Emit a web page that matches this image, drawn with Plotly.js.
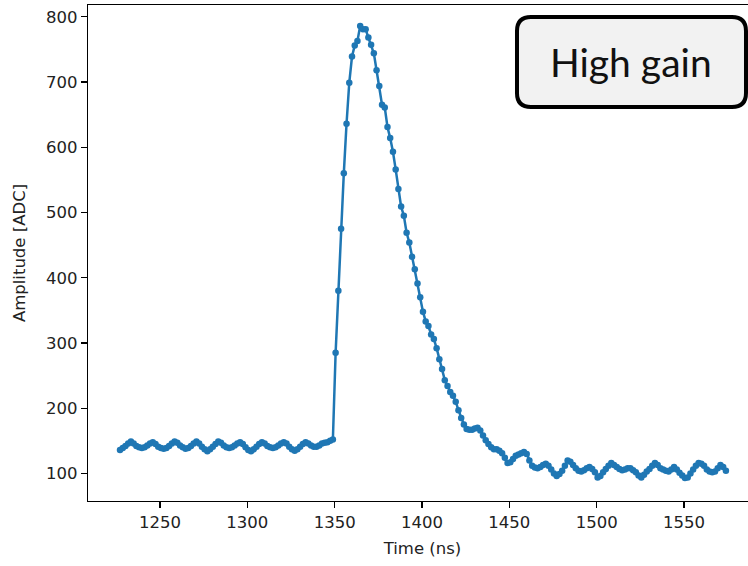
<!DOCTYPE html>
<html>
<head>
<meta charset="utf-8">
<script src="https://cdn.plot.ly/plotly-3.0.1.min.js"></script>
<style>
html, body { margin: 0; padding: 0; background: #ffffff; overflow: hidden; }
#chart { width: 760px; height: 566px; }
</style>
</head>
<body>
<div id="chart"></div>
<script>
// Sample times (ns)
var timeNs = [
  1227.13, 1228.69, 1230.25, 1231.81, 1233.38, 1234.94, 1236.50, 1238.06,
  1239.63, 1241.19, 1242.75, 1244.31, 1245.88, 1247.44, 1249.00, 1250.56,
  1252.13, 1253.69, 1255.25, 1256.81, 1258.38, 1259.94, 1261.50, 1263.06,
  1264.63, 1266.19, 1267.75, 1269.31, 1270.88, 1272.44, 1274.00, 1275.56,
  1277.13, 1278.69, 1280.25, 1281.81, 1283.38, 1284.94, 1286.50, 1288.06,
  1289.63, 1291.19, 1292.75, 1294.31, 1295.88, 1297.44, 1299.00, 1300.56,
  1302.13, 1303.69, 1305.25, 1306.81, 1308.38, 1309.94, 1311.50, 1313.06,
  1314.63, 1316.19, 1317.75, 1319.31, 1320.88, 1322.44, 1324.00, 1325.56,
  1327.13, 1328.69, 1330.25, 1331.81, 1333.38, 1334.94, 1336.50, 1338.06,
  1339.63, 1341.19, 1342.75, 1344.31, 1345.88, 1347.44, 1349.00, 1350.56,
  1352.13, 1353.69, 1355.25, 1356.81, 1358.38, 1359.94, 1361.50, 1363.06,
  1364.63, 1366.19, 1367.75, 1369.31, 1370.88, 1372.44, 1374.00, 1375.56,
  1377.13, 1378.69, 1380.25, 1381.81, 1383.38, 1384.94, 1386.50, 1388.06,
  1389.63, 1391.19, 1392.75, 1394.31, 1395.88, 1397.44, 1399.00, 1400.56,
  1402.13, 1403.69, 1405.25, 1406.81, 1408.38, 1409.94, 1411.50, 1413.06,
  1414.63, 1416.19, 1417.75, 1419.31, 1420.88, 1422.44, 1424.00, 1425.56,
  1427.13, 1428.69, 1430.25, 1431.81, 1433.38, 1434.94, 1436.50, 1438.06,
  1439.63, 1441.19, 1442.75, 1444.31, 1445.88, 1447.44, 1449.00, 1450.56,
  1452.13, 1453.69, 1455.25, 1456.81, 1458.38, 1459.94, 1461.50, 1463.06,
  1464.63, 1466.19, 1467.75, 1469.31, 1470.88, 1472.44, 1474.00, 1475.56,
  1477.13, 1478.69, 1480.25, 1481.81, 1483.38, 1484.94, 1486.50, 1488.06,
  1489.63, 1491.19, 1492.75, 1494.31, 1495.88, 1497.44, 1499.00, 1500.56,
  1502.13, 1503.69, 1505.25, 1506.81, 1508.38, 1509.94, 1511.50, 1513.06,
  1514.63, 1516.19, 1517.75, 1519.31, 1520.88, 1522.44, 1524.00, 1525.56,
  1527.13, 1528.69, 1530.25, 1531.81, 1533.38, 1534.94, 1536.50, 1538.06,
  1539.63, 1541.19, 1542.75, 1544.31, 1545.88, 1547.44, 1549.00, 1550.56,
  1552.13, 1553.69, 1555.25, 1556.81, 1558.38, 1559.94, 1561.50, 1563.06,
  1564.63, 1566.19, 1567.75, 1569.31, 1570.88, 1572.44, 1574.00
];

// Amplitude (ADC counts)
var amplitudeAdc = [
  136, 139, 142, 146, 149, 146, 142, 140,
  139, 140, 143, 146, 148, 145, 141, 139,
  138, 139, 142, 146, 149, 147, 143, 140,
  138, 139, 142, 146, 149, 146, 141, 137,
  134, 137, 141, 145, 149, 147, 143, 140,
  139, 140, 143, 146, 148, 145, 140, 136,
  134, 137, 141, 145, 148, 146, 142, 140,
  139, 140, 143, 146, 148, 146, 141, 137,
  135, 137, 141, 145, 148, 146, 143, 141,
  141, 143, 146, 147, 148, 150, 152, 285,
  380, 475, 560, 636, 699, 739, 756, 763,
  786, 781, 781, 768, 757, 744, 718, 694,
  665, 661, 631, 614, 593, 566, 536, 509,
  495, 469, 454, 432, 413, 391, 370, 348,
  333, 326, 313, 306, 292, 275, 260, 243,
  234, 225, 219, 210, 197, 185, 175, 168,
  167, 167, 169, 170, 166, 158, 151, 145,
  140, 137, 137, 135, 131, 124, 116, 117,
  122, 127, 129, 131, 133, 130, 120, 112,
  109, 108, 110, 113, 115, 112, 106, 100,
  96, 99, 104, 112, 120, 118, 113, 108,
  104, 103, 105, 108, 110, 107, 102, 94,
  96, 102, 107, 112, 116, 113, 110, 107,
  105, 106, 108, 108, 105, 102, 97, 94,
  98, 103, 107, 112, 116, 113, 108, 106,
  104, 103, 106, 110, 106, 101, 97, 93,
  94, 100, 106, 112, 116, 115, 112, 106,
  103, 102, 103, 108, 113, 110, 104
];

var xTickValues = [1250, 1300, 1350, 1400, 1450, 1500, 1550];
var yTickValues = [100, 200, 300, 400, 500, 600, 700, 800];
var xAxisTitle = 'Time (ns)';
var yAxisTitle = 'Amplitude [ADC]';
var boxLabel = 'High gain';

var trace = {
  x: timeNs,
  y: amplitudeAdc,
  type: 'scatter',
  mode: 'lines+markers',
  line: { color: '#1f77b4', width: 2.5 },
  marker: { color: '#1f77b4', size: 6.5 },
  hoverinfo: 'skip'
};

var axisFont = { family: 'DejaVu Sans, sans-serif', size: 16.5, color: '#222222' };

var boxPath = 'M -114.5,-31 L -114.5,31 Q -114.5,45 -100.5,45 L 100.5,45 Q 114.5,45 114.5,31 ' +
              'L 114.5,-31 Q 114.5,-45 100.5,-45 L -100.5,-45 Q -114.5,-45 -114.5,-31 Z';

var layout = {
  width: 760,
  height: 566,
  margin: { l: 88, r: 3, t: 5, b: 65 },
  paper_bgcolor: '#ffffff',
  plot_bgcolor: '#ffffff',
  showlegend: false,
  xaxis: {
    range: [1208.8, 1591.8],
    tickmode: 'array',
    tickvals: xTickValues,
    ticktext: xTickValues.map(String),
    ticks: 'outside',
    ticklen: 6,
    tickwidth: 1.2,
    tickcolor: '#000000',
    showgrid: false,
    zeroline: false,
    showline: true,
    linecolor: '#000000',
    linewidth: 1.2,
    mirror: true,
    tickfont: axisFont,
    title: { text: xAxisTitle, font: axisFont, standoff: 11 },
    automargin: false
  },
  yaxis: {
    range: [57.8, 818],
    tickmode: 'array',
    tickvals: yTickValues,
    ticktext: yTickValues.map(String),
    ticks: 'outside',
    ticklen: 6,
    tickwidth: 1.2,
    tickcolor: '#000000',
    showgrid: false,
    zeroline: false,
    showline: true,
    linecolor: '#000000',
    linewidth: 1.2,
    mirror: true,
    tickfont: axisFont,
    title: { text: yAxisTitle, font: axisFont, standoff: 16 },
    automargin: false
  },
  shapes: [{
    type: 'path',
    xref: 'paper', yref: 'paper',
    xsizemode: 'pixel', ysizemode: 'pixel',
    xanchor: 0.8124, yanchor: 0.885,
    path: boxPath,
    fillcolor: '#f2f2f2',
    line: { color: '#000000', width: 4 },
    layer: 'above'
  }],
  annotations: [{
    xref: 'paper', yref: 'paper',
    x: 0.8124, y: 0.885,
    xanchor: 'center', yanchor: 'middle',
    text: boxLabel,
    showarrow: false,
    font: { family: 'Lato, Open Sans, sans-serif', size: 39, color: '#111111' }
  }]
};

Plotly.newPlot('chart', [trace], layout, { displayModeBar: false, staticPlot: true });
</script>
</body>
</html>
